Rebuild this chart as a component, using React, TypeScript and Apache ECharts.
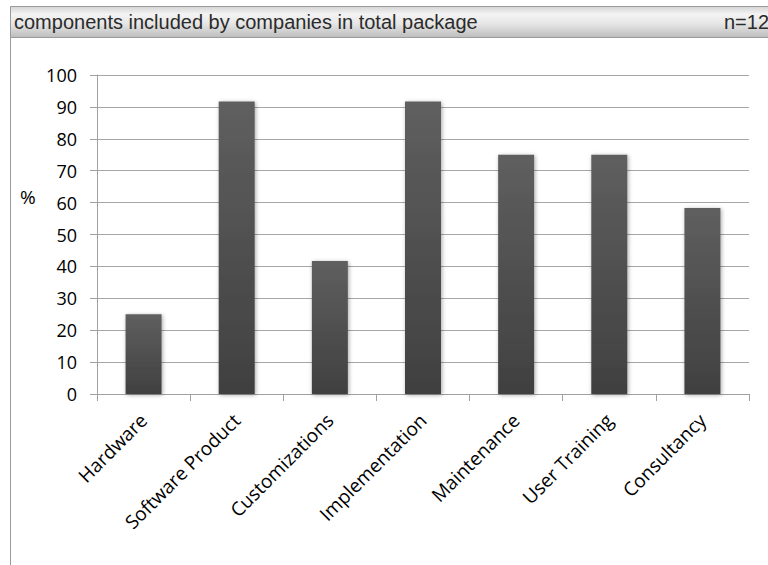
import React, { useEffect, useRef } from "react";
import * as echarts from "echarts";

const categories = [
  "Hardware",
  "Software Product",
  "Customizations",
  "Implementation",
  "Maintenance",
  "User Training",
  "Consultancy",
];
const percentValues = [25, 91.67, 41.67, 91.67, 75, 75, 58.33];
const titleText = "components included by companies in total package";
const sampleText = "n=12";
const yAxisName = "%";

export default function App() {
  const ref = useRef<HTMLDivElement>(null);
  useEffect(() => {
    document.body.style.margin = "0";
    if (!ref.current) return;
    const chart = echarts.init(ref.current, null, { renderer: "svg" });
    const labelFont = "'Open Sans', 'Noto Sans', sans-serif";
    const headFont = "'Liberation Sans', Arial, sans-serif";
    chart.setOption({
      animation: false,
      backgroundColor: "#ffffff",
      grid: { left: 97, right: 19, top: 75, bottom: 171, containLabel: false },
      xAxis: {
        type: "category",
        data: categories,
        axisLine: { show: true, lineStyle: { color: "#a0a0a0", width: 1 } },
        axisTick: { show: true, length: 7, alignWithLabel: false, lineStyle: { color: "#a0a0a0" } },
        axisLabel: {
          rotate: 45,
          margin: 23,
          color: "#000000",
          fontSize: 19,
          fontFamily: labelFont,
          interval: 0,
        },
        splitLine: { show: false },
      },
      yAxis: {
        type: "value",
        min: 0,
        max: 100,
        interval: 10,
        axisLine: { show: true, lineStyle: { color: "#a0a0a0", width: 1 } },
        axisTick: { show: true, length: 7, lineStyle: { color: "#a0a0a0" } },
        axisLabel: {
          margin: 20,
          color: "#000000",
          fontSize: 18,
          fontFamily: labelFont,
        },
        splitLine: { show: true, lineStyle: { color: "#a6a6a6", width: 1 } },
      },
      series: [
        {
          type: "bar",
          data: percentValues,
          barWidth: 36,
          itemStyle: {
            color: new echarts.graphic.LinearGradient(0, 0, 0, 1, [
              { offset: 0, color: "#5f5f5f" },
              { offset: 1, color: "#404040" },
            ]),
            shadowBlur: 4,
            shadowColor: "rgba(0,0,0,0.35)",
            shadowOffsetX: 1,
            shadowOffsetY: 1,
          },
        },
      ],
      graphic: [
        {
          type: "line",
          shape: { x1: 10.5, y1: 37, x2: 10.5, y2: 565 },
          style: { stroke: "#9a9a9a", lineWidth: 1 },
          z: 10,
        },
        {
          type: "rect",
          shape: { x: 10.5, y: 6.5, width: 770, height: 31 },
          style: {
            fill: new echarts.graphic.LinearGradient(0, 0, 0, 1, [
              { offset: 0, color: "#d4d4d4" },
              { offset: 0.25, color: "#f4f4f4" },
              { offset: 0.55, color: "#e6e6e6" },
              { offset: 1, color: "#bdbdbd" },
            ]),
            stroke: "#9a9a9a",
            lineWidth: 1,
          },
          z: 10,
        },
        {
          type: "text",
          left: 14,
          top: 12,
          style: { text: titleText, fontSize: 20, fontFamily: headFont, fill: "#2b2b2b" },
          z: 11,
        },
        {
          type: "text",
          left: 724,
          top: 12,
          style: { text: sampleText, fontSize: 20, fontFamily: headFont, fill: "#2b2b2b" },
          z: 11,
        },
        {
          type: "text",
          left: 20,
          top: 187,
          style: { text: yAxisName, fontSize: 19, fontFamily: labelFont, fill: "#000000" },
          z: 11,
        },
      ],
    });
    return () => chart.dispose();
  }, []);
  return <div ref={ref} style={{ width: 768, height: 565 }} />;
}
